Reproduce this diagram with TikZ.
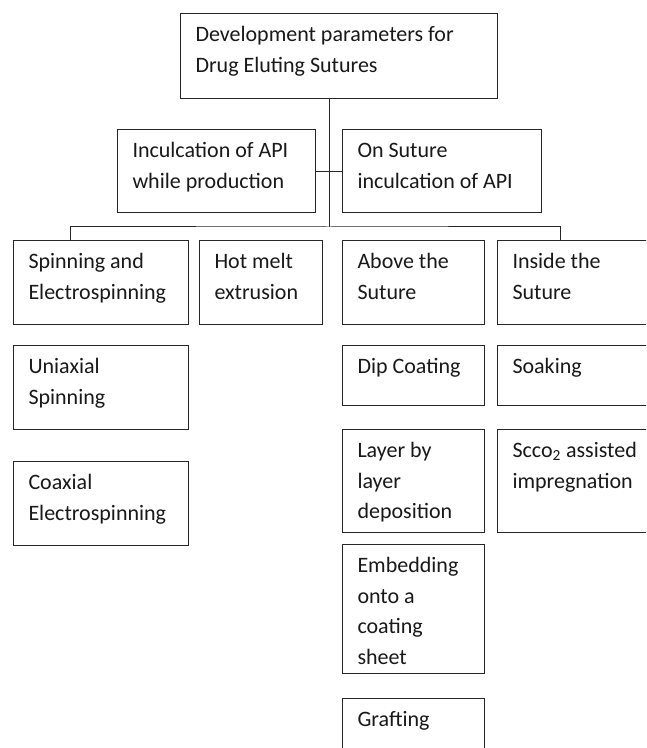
\documentclass[tikz,border=0pt]{standalone}
\usepackage{fontspec}
\setmainfont{Carlito}
\usetikzlibrary{calc}
\newcommand\boxtxt[3]{\begin{minipage}[t][\dimexpr #2pt*3/4\relax][t]{\dimexpr #1pt*3/4\relax}\leftskip=11.25pt\rightskip=0pt plus 1fil\rule{0pt}{21pt}#3\end{minipage}}
\begin{document}
\begin{tikzpicture}[x=0.75pt,y=-0.75pt,line width=0.75pt,
  every node/.style={font=\fontsize{16.5}{22.9}\selectfont, text=black!90},
  box/.style={draw=black!85, rectangle, inner sep=0pt, anchor=north west},
  link/.style={draw=black!85, line width=0.75pt}]
\clip (0,0) rectangle (646,748);
\fill[white] (0,0) rectangle (646,748);
% level 0
\node[box] (top) at (180,13.3) {\boxtxt{317}{84.4}{Development parameters for\\Drug Eluting Sutures}};
% level 1
\node[box] (incul) at (117,129) {\boxtxt{198}{83}{Inculcation of API\\while production}};
\node[box] (onsut) at (342,129) {\boxtxt{199}{83}{On Suture\\inculcation of API}};
% level 2
\node[box] (spin) at (13,240) {\boxtxt{175}{84}{Spinning and\\Electrospinning}};
\node[box] (hot) at (199,240) {\boxtxt{123}{84}{Hot melt\\extrusion}};
\node[box] (above) at (342,240) {\boxtxt{142}{84}{Above the\\Suture}};
\node[box] (inside) at (497,240) {\boxtxt{170}{84}{Inside the\\Suture}};
% level 3
\node[box] (uni) at (13,345) {\boxtxt{175}{84}{Uniaxial\\Spinning}};
\node[box] (dip) at (342,345) {\boxtxt{142}{60}{Dip Coating}};
\node[box] (soak) at (497,345) {\boxtxt{170}{60}{Soaking}};
% level 4
\node[box] (coax) at (13,461) {\boxtxt{175}{84}{Coaxial\\Electrospinning}};
\node[box] (layer) at (342,429) {\boxtxt{142}{103}{Layer by\\layer\\deposition}};
\node[box] (scco) at (497,429) {\boxtxt{170}{103}{Scco\textsubscript{2} assisted\\impregnation}};
% level 5
\node[box] (embed) at (342,544) {\boxtxt{142}{129}{Embedding\\onto a\\coating\\sheet}};
\node[box] (graft) at (342,698) {\boxtxt{142}{100}{Grafting}};
% connectors
\coordinate (hub) at (329,227);
\coordinate (mid) at (0,172);
\draw[link] (top.south -| hub) -- (hub);
\draw[link] ($(spin.north west)+(57.7,0)$) |- (hub) -| ($(inside.north west)+(63,0)$);
\draw[link] (incul.east |- mid) -- (onsut.west |- mid);
\end{tikzpicture}
\end{document}
